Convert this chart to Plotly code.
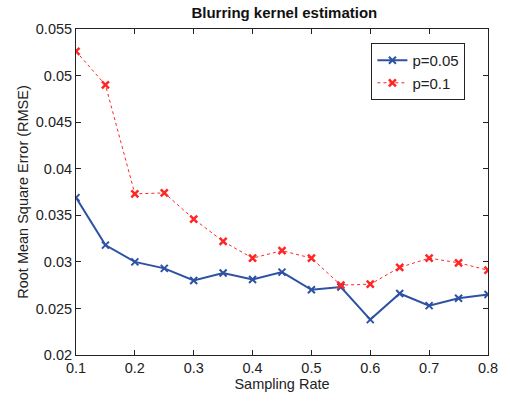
import plotly.graph_objects as go

rate = [0.1, 0.15, 0.2, 0.25, 0.3, 0.35, 0.4, 0.45, 0.5, 0.55, 0.6, 0.65, 0.7, 0.75, 0.8]
p005 = [0.0369, 0.0318, 0.0300, 0.0293, 0.0280, 0.0288, 0.0281, 0.0289, 0.0270, 0.0273,
        0.0238, 0.0266, 0.0253, 0.0261, 0.0265]
p01 = [0.0526, 0.0490, 0.0373, 0.0374, 0.0346, 0.0322, 0.0304, 0.0312, 0.0304, 0.0275,
       0.0276, 0.0294, 0.0304, 0.0299, 0.0291]
xticks = [0.1, 0.2, 0.3, 0.4, 0.5, 0.6, 0.7, 0.8]
yticks = [0.02, 0.025, 0.03, 0.035, 0.04, 0.045, 0.05, 0.055]

blue = "#2D52A3"
red = "#FF2626"
FONT = "Liberation Sans, Arial, sans-serif"

fig = go.Figure()
fig.add_trace(go.Scatter(
    x=rate, y=p005, name="p=0.05", mode="lines+markers",
    line=dict(color=blue, width=2),
    marker=dict(symbol="x-thin", size=7, color=blue, line=dict(color=blue, width=2)),
))
fig.add_trace(go.Scatter(
    x=rate, y=p01, name="p=0.1", mode="lines+markers",
    line=dict(color=red, width=1, dash="dot"),
    marker=dict(symbol="x-thin", size=7, color=red, line=dict(color=red, width=2.5)),
))

axis_common = dict(
    showgrid=False, zeroline=False, showline=True, linecolor="#222222", linewidth=1,
    mirror="ticks", ticks="inside", ticklen=5, tickcolor="#222222",
    tickfont=dict(family=FONT, size=14.5, color="#222222"),
)
fig.update_xaxes(range=[0.1, 0.8], tickvals=xticks, ticktext=[f"{v:g}" for v in xticks],
                 title=dict(text="Sampling Rate", standoff=2,
                            font=dict(family=FONT, size=14.5, color="#222222")),
                 **axis_common)
fig.update_yaxes(range=[0.02, 0.055], tickvals=yticks, ticktext=[f"{v:g}" for v in yticks],
                 title=dict(text="Root Mean Square Error (RMSE)", standoff=3,
                            font=dict(family=FONT, size=14.5, color="#222222")),
                 **axis_common)

fig.update_layout(
    width=510, height=401,
    margin=dict(l=76, r=17, t=29, b=44),
    paper_bgcolor="white", plot_bgcolor="white",
    title=dict(text="<b>Blurring kernel estimation</b>", x=0.5575, xanchor="center",
               y=0.968, yanchor="middle",
               font=dict(family=FONT, size=15, color="#111111")),
    legend=dict(x=0.717, y=0.957, xanchor="left", yanchor="top",
                bgcolor="white", bordercolor="#222222", borderwidth=1,
                font=dict(family=FONT, size=15, color="#222222"),
                tracegroupgap=0, itemwidth=30),
    showlegend=True,
)

fig.write_html("out.html")
